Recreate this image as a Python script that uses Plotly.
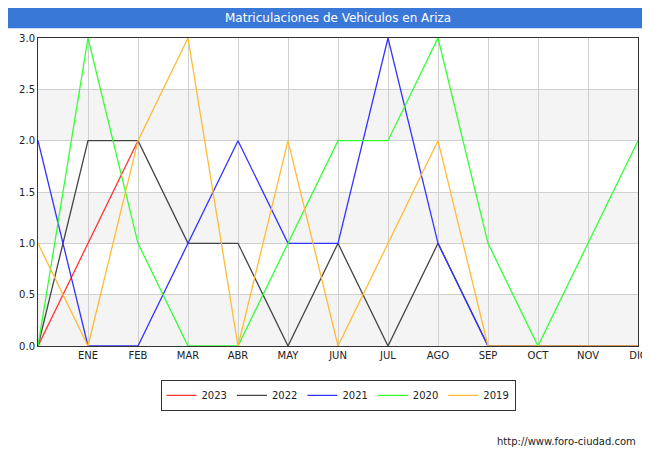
import plotly.graph_objects as go

meses = ["", "ENE", "FEB", "MAR", "ABR", "MAY", "JUN", "JUL", "AGO", "SEP", "OCT", "NOV", "DIC"]
x = list(range(13))

v2023 = [0, 1, 2]
v2022 = [0, 2, 2, 1, 1, 0, 1, 0, 1, 0, 0, 0, 0]
v2021 = [2, 0, 0, 1, 2, 1, 1, 3, 1, 0, 0, 0, 0]
v2020 = [0, 3, 1, 0, 0, 1, 2, 2, 3, 1, 0, 1, 2]
v2019 = [1, 0, 2, 3, 0, 2, 0, 1, 2, 0, 0, 0, 0]

series = [("2023", v2023, "#ff3333"), ("2022", v2022, "#444444"),
          ("2021", v2021, "#3333ff"), ("2020", v2020, "#33ff33"),
          ("2019", v2019, "#ffbb33")]

fig = go.Figure()
for name, vals, col in series:
    fig.add_trace(go.Scatter(x=x[:len(vals)], y=vals, mode="lines", name=name,
                             line=dict(color=col, width=1.3)))

# franjas grises
for y0 in [0, 1, 2]:
    fig.add_shape(type="rect", xref="paper", yref="y", x0=0, x1=1, y0=y0, y1=y0 + 0.5,
                  fillcolor="#f4f4f4", line_width=0, layer="below")

fig.update_layout(
    width=650, height=450,
    margin=dict(l=30, r=20, t=30, b=112, autoexpand=False),
    paper_bgcolor="white", plot_bgcolor="white",
    font=dict(family="DejaVu Sans", size=10, color="#222"),
    showlegend=True,
    legend=dict(orientation="h", x=0.5, xanchor="center", y=-0.16, yanchor="middle",
                bordercolor="#333", borderwidth=1, font=dict(size=10)),
    xaxis=dict(range=[0, 12], tickmode="array", tickvals=x, ticktext=meses,
               showgrid=True, gridcolor="#d0d0d0", zeroline=False, automargin=False,
               showline=True, linecolor="#333", mirror=True, ticks=""),
    yaxis=dict(range=[0, 3], dtick=0.5, tickformat=".1f", automargin=False,
               showgrid=True, gridcolor="#d0d0d0", zeroline=False,
               showline=True, linecolor="#333", mirror=True),
)
fig.add_shape(type="rect", xref="paper", yref="paper", x0=-0.06, x1=1.04, y0=1.032, y1=1.1,
              fillcolor="#3a78d8", line_width=0)
fig.add_annotation(text="Matriculaciones de Vehiculos en Ariza", xref="paper", yref="paper",
                   x=0.5, y=1.064, yanchor="middle", showarrow=False,
                   font=dict(color="white", size=12))
fig.add_annotation(text="http://www.foro-ciudad.com", xref="paper", yref="paper",
                   x=1.0, y=-0.31, xanchor="right", yanchor="middle", showarrow=False,
                   font=dict(size=10))
fig.write_html("out.html")
